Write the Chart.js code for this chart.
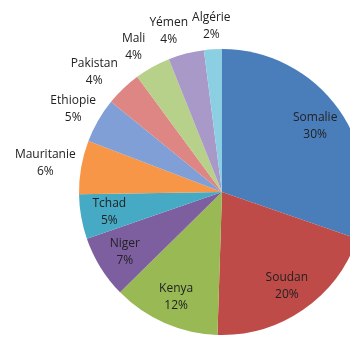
<!DOCTYPE html>
<html>
<head>
<meta charset="utf-8">
<script src="https://cdn.jsdelivr.net/npm/chart.js@4.4.0/dist/chart.umd.min.js"></script>
<style>
  html, body { margin: 0; padding: 0; background: #fff; overflow: hidden; }
  #wrap { position: absolute; left: 0; top: 0; width: 440px; height: 340px; }
</style>
</head>
<body>
<div id="wrap"><canvas id="myChart" width="440" height="340"></canvas></div>
<script>
'use strict'

const countries = ['Somalie', 'Soudan', 'Kenya', 'Niger', 'Tchad', 'Mauritanie',
    'Ethiopie', 'Pakistan', 'Mali', 'Yémen', 'Algérie'];
const shares = [30, 20, 12, 7, 5, 6, 5, 4, 4, 4, 2];
const shareLabels = ['30%', '20%', '12%', '7%', '5%', '6%', '5%', '4%', '4%', '4%', '2%'];

const sliceColors = ['#4a7ebb', '#be4b48', '#98b954', '#7d5fa0', '#46aac5', '#f79646',
    '#7f9fd6', '#dd8683', '#b7d08a', '#a899c8', '#8ccfe2'];

const fontFamily = '"Open Sans", Lato, sans-serif';
const fontSize = 12;
const lineH = 17;

// draws "name / pct" labels, inside the slice if the text fits, outside otherwise
const sliceLabels = {
    id: 'sliceLabels',
    afterDatasetsDraw(chart) {
        const ctx = chart.ctx;
        const arcs = chart.getDatasetMeta(0).data;
        ctx.save();
        ctx.font = fontSize + 'px ' + fontFamily;
        ctx.fillStyle = '#222';
        ctx.textAlign = 'center';
        ctx.textBaseline = 'middle';
        const boxes = [];
        arcs.forEach((arc, i) => {
            const p = arc.getProps(['x', 'y', 'startAngle', 'endAngle', 'outerRadius'], true);
            const mid = (p.startAngle + p.endAngle) / 2;
            const span = p.endAngle - p.startAngle;
            const cos = Math.cos(mid), sin = Math.sin(mid);
            const w = Math.max(ctx.measureText(countries[i]).width, ctx.measureText(shareLabels[i]).width);
            const h = lineH * 2;
            const rin = p.outerRadius * 0.8;
            const chord = 2 * rin * Math.sin(span / 2);
            if (Math.max(w, h) < chord) {
                boxes.push({ i, cx: p.x + cos * rin, cy: p.y + sin * rin, w, h, out: false });
            } else {
                const ro = p.outerRadius + 6;
                boxes.push({ i, cx: p.x + cos * ro + cos * w / 2, cy: p.y + sin * ro + sin * h / 2, w, h, out: true });
            }
        });
        // push outside labels left when they collide with the next one
        for (let k = boxes.length - 1; k > 0; k--) {
            const a = boxes[k - 1], b = boxes[k];
            if (!a.out || !b.out) continue;
            const ox = (a.w + b.w) / 2 + 4 - (b.cx - a.cx);
            const oy = (a.h + b.h) / 2 - Math.abs(b.cy - a.cy);
            if (ox > 0 && oy > 0) a.cx -= ox;
        }
        boxes.forEach(b => {
            ctx.fillText(countries[b.i], b.cx, b.cy - lineH / 2);
            ctx.fillText(shareLabels[b.i], b.cx, b.cy + lineH / 2);
        });
        ctx.restore();
    }
};

const data = {
    labels: countries,
    datasets: [{
        data: shares,
        backgroundColor: sliceColors,
        borderWidth: 0
    }]
};

const config = {
    type: 'pie',
    data: data,
    options: {
        responsive: false,
        animation: false,
        devicePixelRatio: 1,
        layout: { padding: { top: 49, bottom: 5, left: 4, right: 0 } },
        plugins: {
            legend: { display: false },
            tooltip: { enabled: false }
        }
    },
    plugins: [sliceLabels]
};

const myChart = new Chart(document.getElementById('myChart'), config);
</script>
</body>
</html>
